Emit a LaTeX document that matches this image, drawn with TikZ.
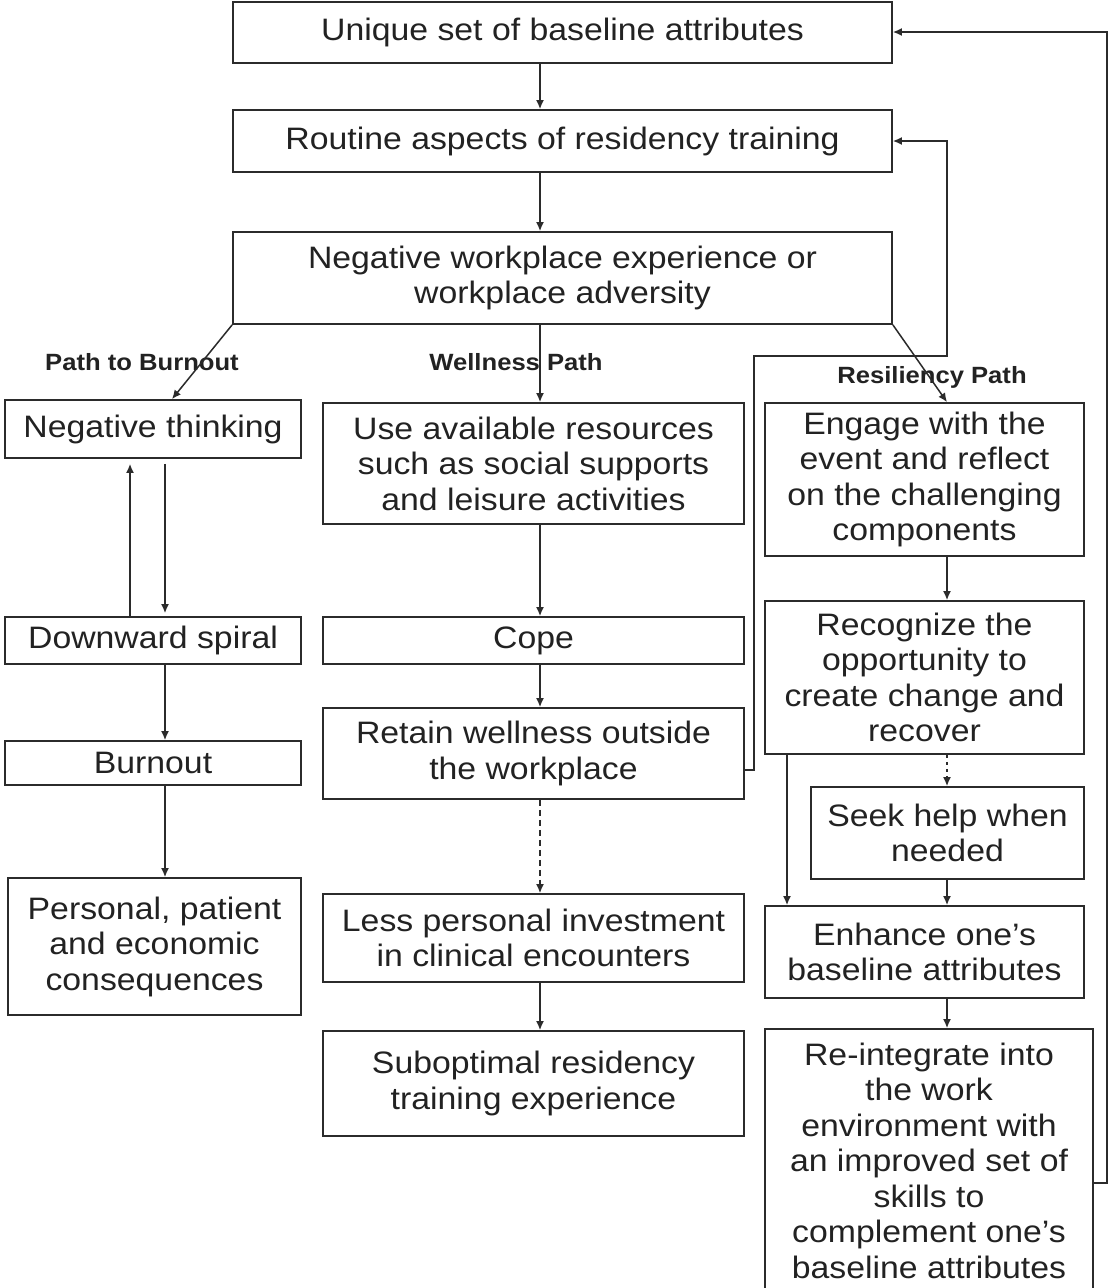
\documentclass[tikz,border=0pt]{standalone}
\usepackage{fontspec}
\setmainfont[FakeStretch=1.09]{Liberation Sans}
\usetikzlibrary{arrows.meta}
\definecolor{ink}{HTML}{222222}
\definecolor{edge}{HTML}{2b2b2b}

% box from corner (x1,y1) to corner (x2,y2), y measured downwards
\newcommand\flowbox[6]{%
  \node[box, minimum width={#4-#2}, minimum height={#5-#3}] (#1)
    at ({(#2+#4)/2},{(#3+#5)/2}) {#6};}

\begin{document}
\begin{tikzpicture}[x=1pt,y=-1pt,
  box/.style={draw=edge, line width=1.8pt, inner sep=0pt, align=center,
    text=ink, font=\fontsize{31}{35.5}\selectfont},
  arr/.style={draw=edge, line width=1.5pt, -{Latex[length=9pt,width=8pt]}},
  dasharr/.style={arr, dash pattern=on 6pt off 4pt},
  dotarr/.style={arr, dash pattern=on 3pt off 4pt},
  lbl/.style={font=\bfseries\fontsize{23.5}{26}\selectfont, text=ink, inner sep=0pt}]
\useasboundingbox[fill=white] (0,0) rectangle (1110,1288);

% top chain
\flowbox{unique}{233}{2}{892}{63}{Unique set of baseline attributes}
\flowbox{routine}{233}{110}{892}{172}{Routine aspects of residency training}
\flowbox{negwork}{233}{232}{892}{324}{Negative workplace experience or\\workplace adversity}

% path to burnout
\flowbox{negthink}{5}{400}{301}{458}{Negative thinking}
\flowbox{spiral}{5}{617}{301}{664}{Downward spiral}
\flowbox{burnout}{5}{741}{301}{785}{Burnout}
\flowbox{conseq}{8}{878}{301}{1015}{Personal, patient\\and economic\\consequences}

% wellness path
\flowbox{resources}{323}{403}{744}{524}{Use available resources\\such as social supports\\and leisure activities}
\flowbox{cope}{323}{617}{744}{664}{Cope}
\flowbox{retain}{323}{708}{744}{799}{Retain wellness outside\\the workplace}
\flowbox{lessinv}{323}{894}{744}{982}{Less personal investment\\in clinical encounters}
\flowbox{subopt}{323}{1031}{744}{1136}{Suboptimal residency\\training experience}

% resiliency path
\flowbox{engage}{765}{403}{1084}{556}{Engage with the\\event and reflect\\on the challenging\\components}
\flowbox{recog}{765}{601}{1084}{754}{Recognize the\\opportunity to\\create change and\\recover}
\flowbox{seek}{811}{787}{1084}{879}{Seek help when\\needed}
\flowbox{enhance}{765}{906}{1084}{998}{Enhance one’s\\baseline attributes}
\flowbox{reint}{765}{1029}{1093}{1292}{Re-integrate into\\the work\\environment with\\an improved set of\\skills to\\complement one’s\\baseline attributes}

% path labels
\node[lbl] (pburn) at (142,362) {Path to Burnout};
\node[lbl] (pwell) at (516,362) {Wellness Path};
\node[lbl] (presil) at (932,377) {Resiliency Path};

% connectors: main chain
\draw[arr] (unique.south -| 540,0) -- (routine.north -| 540,0);
\draw[arr] (routine.south -| 540,0) -- (negwork.north -| 540,0);
\draw[arr] (negwork.south west) -- (negthink.north -| 172,0);
\draw[arr] (negwork.south -| 540,0) -- (resources.north -| 540,0);
\draw[arr] (negwork.south east) -- (engage.north -| 947,0);

% connectors: burnout
\draw[arr, shorten >=5pt] (spiral.north -| 130,0) -- (negthink.south -| 130,0);
\draw[arr, shorten <=5pt, shorten >=3pt] (negthink.south -| 165,0) -- (spiral.north -| 165,0);
\draw[arr] (spiral.south -| 165,0) -- (burnout.north -| 165,0);
\draw[arr] (burnout.south -| 165,0) -- (conseq.north -| 165,0);

% connectors: wellness
\draw[arr] (resources.south -| 540,0) -- (cope.north -| 540,0);
\draw[arr] (cope.south -| 540,0) -- (retain.north -| 540,0);
\draw[dasharr] (retain.south -| 540,0) -- (lessinv.north -| 540,0);
\draw[arr] (lessinv.south -| 540,0) -- (subopt.north -| 540,0);

% connectors: resiliency
\draw[arr] (engage.south -| 947,0) -- (recog.north -| 947,0);
\draw[dotarr] (recog.south -| 947,0) -- (seek.north -| 947,0);
\draw[arr] (seek.south -| 947,0) -- (enhance.north -| 947,0);
\draw[arr] (recog.south -| 787,0) -- (enhance.north -| 787,0);
\draw[arr] (enhance.south -| 947,0) -- (reint.north -| 947,0);

% feedback loops
\draw[arr] (retain.east |- 0,770) -- (754,770) -- (754,356) -- (947,356)
  -- (947,141) -- (routine.east |- 0,141);
\draw[arr] (reint.east |- 0,1183) -- (1107,1183) -- (1107,32)
  -- (unique.east |- 0,32);
\end{tikzpicture}
\end{document}
